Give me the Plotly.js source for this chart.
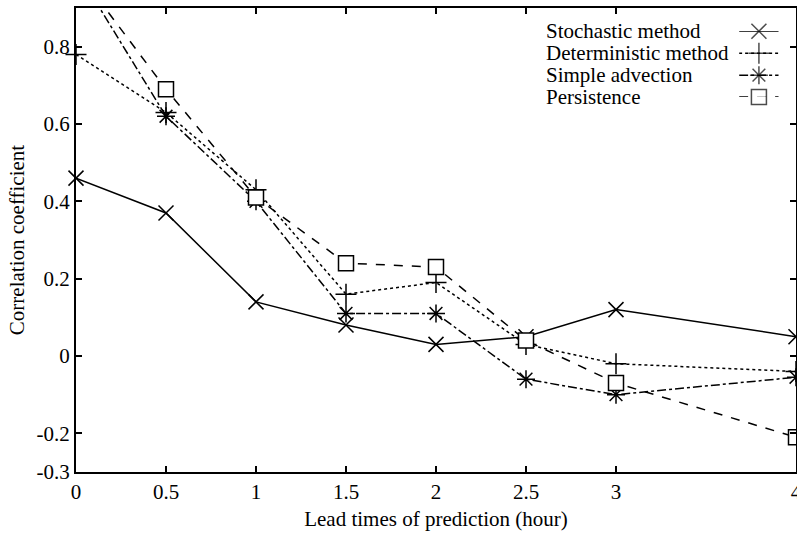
<!DOCTYPE html>
<html>
<head>
<meta charset="utf-8">
<script src="https://cdn.plot.ly/plotly-3.0.1.min.js"></script>
<style>html,body{margin:0;padding:0;background:#fff;}#chart{width:797px;height:538px;}</style>
</head>
<body>
<div id="chart"></div>
<script>
const leadTimes = [0, 0.5, 1, 1.5, 2, 2.5, 3, 4];
const stochastic = [0.46, 0.37, 0.14, 0.08, 0.03, 0.05, 0.12, 0.05];
const deterministic = [0.78, 0.63, 0.43, 0.16, 0.19, 0.03, -0.02, -0.04];
const advection = [1.0, 0.62, 0.40, 0.11, 0.11, -0.06, -0.10, -0.055];
const persistence = [1.0, 0.69, 0.41, 0.24, 0.23, 0.04, -0.07, -0.21];
const seriesNames = ["Stochastic method", "Deterministic method", "Simple advection", "Persistence"];
const xTicks = [0, 0.5, 1, 1.5, 2, 2.5, 3, 4];
const yTicks = [-0.3, -0.2, 0, 0.2, 0.4, 0.6, 0.8];

const FONT = "Liberation Serif, Times New Roman, serif";
const styles = [
  {dash: "solid", symbol: "x-thin-open", size: 15, fill: "#000"},
  {dash: "dot", symbol: "cross-thin-open", size: 15, fill: "#000"},
  {dash: "dashdot", symbol: "asterisk-open", size: 15, fill: "#000"},
  {dash: "dash", symbol: "square", size: 15, fill: "#ffffff"}
];
const allSeries = [stochastic, deterministic, advection, persistence];

const traces = allSeries.map((ys, i) => ({
  x: leadTimes, y: ys, type: "scatter", mode: "lines+markers",
  name: seriesNames[i], cliponaxis: false, showlegend: false,
  line: {color: "#000", width: 1.5, dash: styles[i].dash},
  marker: {symbol: styles[i].symbol, size: styles[i].size, color: styles[i].fill,
           line: {color: "#000", width: 1.5}}
}));

// custom legend samples (symbol to the right of text) on an auxiliary axis
const legendRows = [3, 2, 1, 0];
allSeries.forEach((ys, i) => {
  traces.push({
    x: [0, 0.5, 1], y: [legendRows[i], legendRows[i], legendRows[i]],
    xaxis: "x2", yaxis: "y2", type: "scatter", mode: "lines+markers",
    showlegend: false, hoverinfo: "skip", cliponaxis: false,
    line: {color: "#000", width: 1.5, dash: styles[i].dash},
    marker: {symbol: styles[i].symbol, size: [0, styles[i].size, 0], color: styles[i].fill,
             line: {color: "#000", width: 1.5}}
  });
});

const annotations = seriesNames.map((t, i) => ({
  text: t, xref: "paper", yref: "y2", x: 0.650, y: legendRows[i],
  xanchor: "left", yanchor: "middle", showarrow: false,
  font: {family: FONT, size: 21, color: "#000"}
}));

const layout = {
  width: 797, height: 538,
  margin: {l: 76, r: 1, t: 8, b: 66},
  paper_bgcolor: "#fff", plot_bgcolor: "#fff",
  font: {family: FONT, size: 21, color: "#000"},
  xaxis: {
    range: [0, 4], tickvals: xTicks, ticktext: xTicks.map(String),
    ticks: "inside", ticklen: 6, tickwidth: 2, tickcolor: "#000",
    showline: true, linewidth: 2, linecolor: "#000", mirror: "ticks",
    showgrid: false, zeroline: false, ticklabeloverflow: "allow",
    tickfont: {family: FONT, size: 21},
    title: {text: "Lead times of prediction (hour)", font: {family: FONT, size: 21}, standoff: 8}
  },
  yaxis: {
    range: [-0.3, 0.9], tickvals: yTicks, ticktext: yTicks.map(String),
    ticks: "inside", ticklen: 6, tickwidth: 2, tickcolor: "#000",
    showline: true, linewidth: 2, linecolor: "#000", mirror: "ticks",
    showgrid: false, zeroline: false, ticklabeloverflow: "allow",
    tickfont: {family: FONT, size: 21},
    title: {text: "Correlation coefficient", font: {family: FONT, size: 21}, standoff: 6}
  },
  xaxis2: {domain: [0.921, 0.976], range: [0, 1], anchor: "y2", visible: false, fixedrange: true},
  yaxis2: {domain: [0.808, 0.950], range: [0, 3], anchor: "x2", visible: false, fixedrange: true},
  annotations: annotations,
  showlegend: false
};

Plotly.newPlot("chart", traces, layout, {displayModeBar: false, staticPlot: true});
</script>
</body>
</html>
